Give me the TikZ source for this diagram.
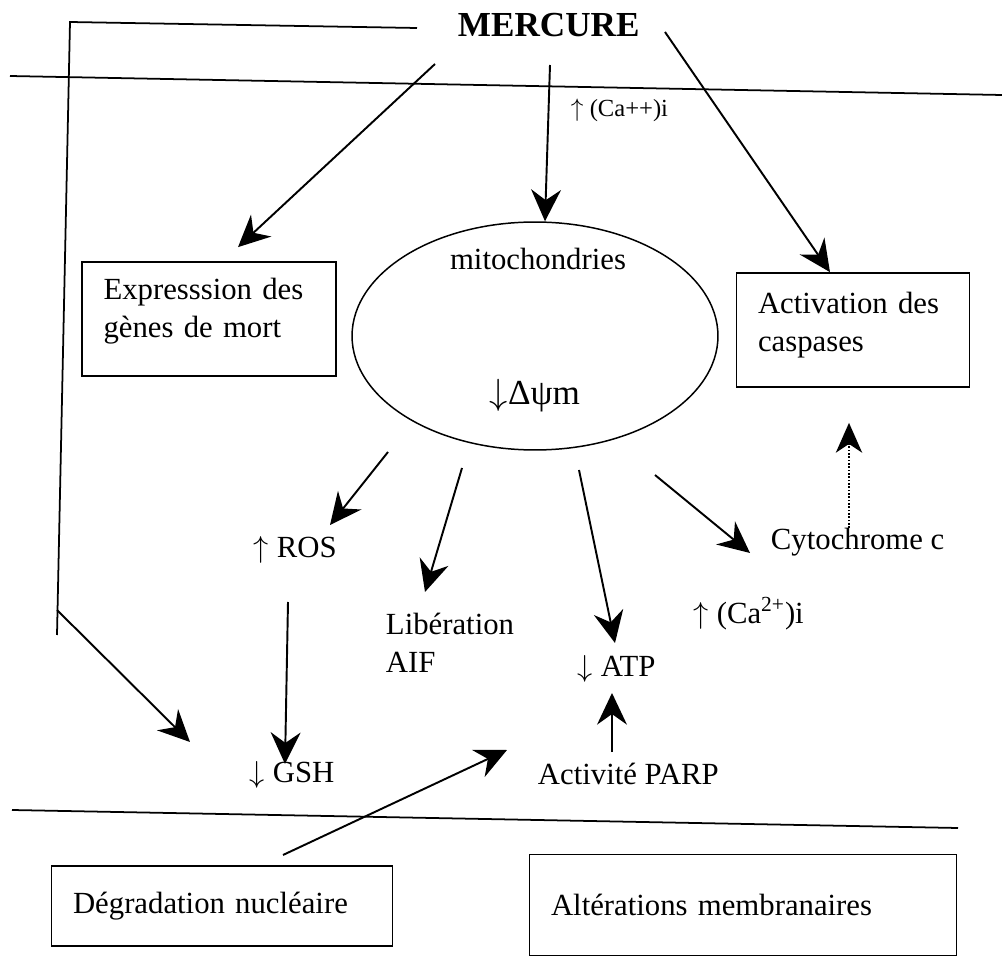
\documentclass[tikz,border=0pt]{standalone}
\usepackage{fontspec}
\setmainfont{Liberation Serif}
\usetikzlibrary{arrows.meta,shapes.geometric}

% extra depth below the last line of a box
\newcommand{\padb}[1]{\rule[-#1]{0pt}{0pt}}

\begin{document}
\begin{tikzpicture}[x=0.02cm,y=-0.02cm,line width=1.1pt,
  arr/.style={-{Stealth[length=18pt,width=17pt,inset=6pt]}},
  dots/.style={-{Stealth[length=17pt,width=15pt,inset=5pt]},densely dotted,line width=0.9pt},
  memb/.style={line width=1pt},
  txt/.style={font=\fontsize{17.5}{21.5}\selectfont,inner sep=0pt,align=left},
  box/.style={txt,draw,line width=1pt,inner xsep=0.43cm,inner ysep=0pt}]

  \useasboundingbox (0,0) rectangle (1002,956);

  % mercure and the cell
  \node[font=\fontsize{20}{24}\selectfont\bfseries,inner sep=0pt,anchor=base west] (hg) at (457,37) {MERCURE};
  \node[draw,ellipse,line width=0.85pt,minimum width=7.32cm,minimum height=4.56cm] (mito) at (535,336) {};
  \node[txt,anchor=base] (mitoname) at (538,270) {mitochondries};
  \node[txt,anchor=base,font=\fontsize{20}{24}\selectfont] (dpsi) at (535,405) {$\downarrow$Δψm};

  \node[box,text width=4.22cm,minimum height=2.28cm] (expr) at (209,319) {Expresssion des\\gènes de mort\padb{12.8pt}};
  \node[box,text width=3.8cm,minimum height=2.28cm] (act) at (853,330) {Activation des\\caspases\padb{9.4pt}};
  \node[box,text width=5.96cm,minimum height=1.6cm] (deg) at (222,906) {Dégradation nucléaire};
  \node[box,text width=7.68cm,minimum height=2.02cm] (alt) at (743,905) {Altérations membranaires};

  \node[txt,anchor=base west,font=\fontsize{14}{17}\selectfont] (caa) at (570,117) {$\uparrow$ (Ca++)i};
  \node[txt,anchor=base west] (ros) at (253,558) {$\uparrow$ ROS};
  \node[txt,anchor=base west] (gsh) at (249,782) {$\downarrow$ GSH};
  \node[txt,anchor=west] (aif) at (385,643) {Libération\\AIF};
  \node[txt,anchor=base west] (atp) at (577,677) {$\downarrow$ ATP};
  \node[txt,anchor=base west] (parp) at (537,785) {Activité PARP};
  \node[txt,anchor=base west] (cyt) at (770,550) {Cytochrome c};
  \node[txt,anchor=base west] (cab) at (693,623) {$\uparrow$ (Ca\textsuperscript{2+})i};

  % membranes
  \draw[memb] (10,76) -- (1002,95);
  \draw[memb] (12,810) -- (958,828);
  \draw[memb] (417,28) -- (70,22) -- (57,635);

  \coordinate (hgl) at (435,64);
  \coordinate (hgm) at (550,65);
  \coordinate (hgr) at (665,32);
  \coordinate (side) at (57,610);
  \coordinate (side tip) at (190,742);
  \coordinate (m-ros) at (388,452);
  \coordinate (ros tip) at (330,525);
  \coordinate (m-aif) at (462,468);
  \coordinate (aif tip) at (425,592);
  \coordinate (m-atp) at (579,470);
  \coordinate (atp tip) at (615,643);
  \coordinate (m-cyt) at (655,475);
  \coordinate (cyt tip) at (750,553);
  \coordinate (ros low) at (288,602);
  \coordinate (gsh tip) at (285,764);
  \coordinate (parp top) at (612,752);
  \coordinate (atp low) at (612,693);
  \coordinate (nucl) at (283,855);
  \coordinate (parp tip) at (507,750);
  \coordinate (cyt top) at (849,528);

  \draw[arr] (hgl) -- ([shift={(29,-14)}]expr.north);
  \draw[arr] (hgm) -- ([shift={(10,0)}]mito.north);
  \draw[arr] (hgr) -- ([shift={(-23,0)}]act.north);
  \draw[arr] (side) -- (side tip);

  \draw[arr] (m-ros) -- (ros tip);
  \draw[arr] (m-aif) -- (aif tip);
  \draw[arr] (m-atp) -- (atp tip);
  \draw[arr] (m-cyt) -- (cyt tip);
  \draw[arr] (ros low) -- (gsh tip);
  \draw[arr] (parp top) -- (atp low);
  \draw[arr] (nucl) -- (parp tip);
  \draw[dots] (cyt top) -- ([shift={(-4,35)}]act.south);

\end{tikzpicture}
\end{document}
